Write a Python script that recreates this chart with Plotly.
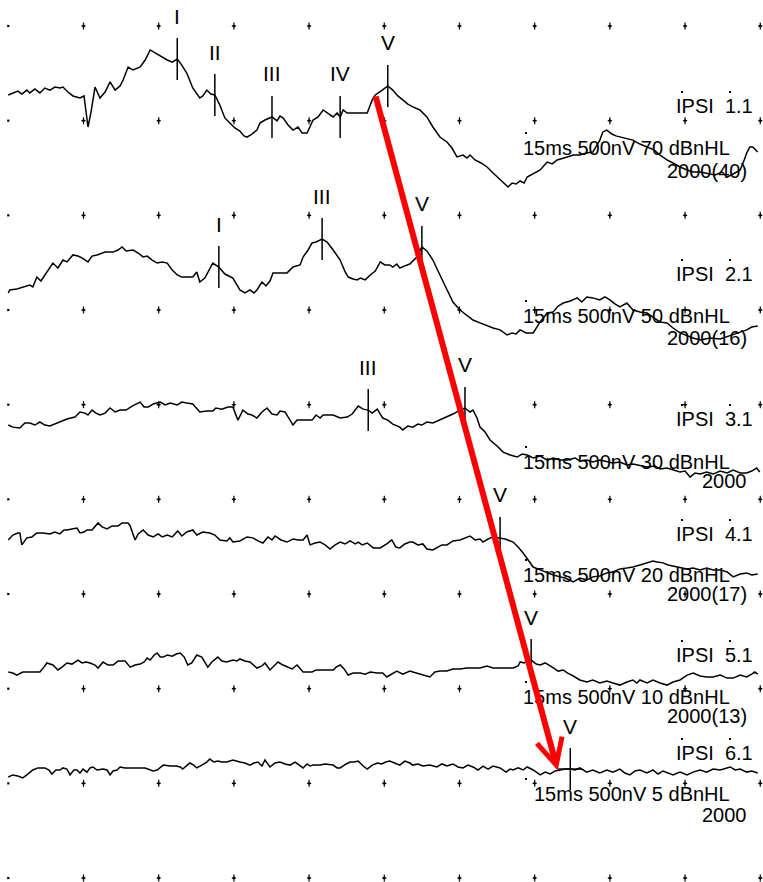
import numpy as np
import plotly.graph_objects as go

# ABR intensity series: 15 ms sweep (10 x 1.5 ms), 500 nV per vertical division
SWEEP_MS = 15.0
MS_PER_DIV = 1.5
NV_PER_DIV = 500.0

levels_db = [70, 50, 30, 20, 10, 5]
channel_ids = ["1.1", "2.1", "3.1", "4.1", "5.1", "6.1"]
sweep_counts = ["2000(40)", "2000(16)", "2000", "2000(17)", "2000(13)", "2000"]

# --- waveforms: latency (ms) and amplitude (nV, positive up) ---
t1 = [0.00, 0.09, 0.19, 0.27, 0.37, 0.43, 0.53, 0.63, 0.73, 0.83, 0.93, 1.03, 1.09, 1.19, 1.29, 1.43,
      1.51, 1.59, 1.65, 1.73, 1.83, 1.93, 2.03, 2.13, 2.23, 2.29, 2.39, 2.49, 2.63, 2.73, 2.83, 2.93,
      3.03, 3.17, 3.27, 3.37, 3.46, 3.56, 3.68, 3.82, 3.88, 3.96, 4.04, 4.12, 4.22, 4.32, 4.42, 4.52,
      4.62, 4.70, 4.76, 4.86, 4.96, 5.02, 5.12, 5.26, 5.36, 5.42, 5.48, 5.58, 5.68, 5.78, 5.86, 5.96,
      6.08, 6.18, 6.28, 6.38, 6.48, 6.56, 6.62, 6.68, 6.76, 6.92, 7.16, 7.26, 7.32, 7.46, 7.57, 7.67,
      7.77, 7.87, 7.97, 8.07, 8.21, 8.35, 8.47, 8.61, 8.75, 8.85, 8.95, 9.07, 9.15, 9.21, 9.31, 9.43,
      9.55, 9.67, 9.81, 9.89, 9.97, 10.05, 10.13, 10.21, 10.29, 10.35, 10.47, 10.61, 10.75, 10.85,
      10.95, 11.05, 11.15, 11.27, 11.40, 11.54, 11.66, 11.80, 11.86, 11.94, 12.04, 12.12, 12.20, 12.32,
      12.46, 12.60, 12.74, 12.88, 13.00, 13.14, 13.26, 13.40, 13.54, 13.66, 13.80, 13.93, 14.10, 14.24,
      14.34, 14.46, 14.60, 14.68, 14.73, 14.79, 14.85, 14.95]
a1 = [0, 11, 21, 5, 26, 11, 32, 11, 37, 26, 42, 37, 42, 16, -5, -16,
      -5, -169, -90, 42, -16, 16, 69, 26, 48, 79, 148, 132, 148, 185, 238, 222,
      206, 185, 174, 190, 158, 116, 37, -16, -5, 26, 5, 0, -53, -121, -148, -174,
      -190, -216, -222, -206, -185, -148, -132, -116, -137, -111, -121, -158, -185, -169, -201, -201,
      -132, -116, -79, -100, -116, -95, -116, -79, -95, -95, -95, -26, 0, 26, 48, 26,
      -5, -26, -48, -63, -79, -116, -169, -222, -248, -280, -327, -317, -333, -317, -343, -359,
      -380, -412, -449, -465, -486, -465, -470, -454, -465, -433, -417, -396, -354, -364,
      -343, -333, -327, -317, -317, -306, -301, -238, -195, -185, -206, -216, -222, -227,
      -238, -259, -275, -290, -317, -343, -359, -380, -396, -407, -407, -412, -422, -407,
      -433, -417, -396, -343, -306, -275, -275, -301]

t2 = [0.00, 0.03, 0.17, 0.29, 0.43, 0.49, 0.57, 0.65, 0.77, 0.89, 0.99, 1.09, 1.17, 1.29, 1.39, 1.47,
      1.59, 1.67, 1.77, 1.93, 2.09, 2.19, 2.27, 2.35, 2.49, 2.59, 2.69, 2.77, 2.87, 2.97, 3.07, 3.17,
      3.27, 3.37, 3.46, 3.58, 3.68, 3.76, 3.82, 3.92, 4.08, 4.20, 4.32, 4.48, 4.62, 4.72, 4.82, 4.90,
      4.96, 5.06, 5.14, 5.22, 5.28, 5.42, 5.56, 5.68, 5.82, 5.88, 5.98, 6.06, 6.14, 6.26, 6.36, 6.48,
      6.62, 6.72, 6.78, 6.88, 6.96, 7.02, 7.12, 7.22, 7.32, 7.42, 7.51, 7.61, 7.67, 7.75, 7.81, 7.91,
      8.01, 8.15, 8.25, 8.35, 8.47, 8.61, 8.75, 8.87, 9.01, 9.15, 9.27, 9.41, 9.55, 9.67, 9.81, 9.95,
      10.05, 10.13, 10.21, 10.33, 10.47, 10.61, 10.75, 10.87, 10.97, 11.07, 11.21, 11.35, 11.44, 11.54,
      11.66, 11.80, 11.90, 12.00, 12.10, 12.20, 12.34, 12.46, 12.60, 12.74, 12.88, 13.00, 13.14, 13.26,
      13.40, 13.54, 13.66, 13.80, 14.00, 14.20, 14.34, 14.50, 14.73, 14.83, 14.95]
a2 = [0, 16, 21, 32, 42, 32, 84, 63, 111, 158, 132, 174, 164, 201, 195, 185,
      164, 195, 201, 216, 216, 227, 243, 222, 227, 211, 190, 195, 174, 158, 164, 158,
      121, 95, 84, 84, 84, 111, 58, 79, 158, 137, 100, 79, 16, 0, 16, 0,
      16, 58, 37, 63, 106, 106, 106, 137, 148, 190, 227, 264, 269, 285, 269, 227,
      174, 111, 84, 74, 69, 79, 69, 95, 116, 164, 148, 148, 137, 153, 132, 143,
      153, 190, 243, 222, 174, 95, 16, -48, -90, -121, -143, -158, -174, -185, -195, -222,
      -211, -216, -195, -211, -211, -153, -106, -100, -69, -53, -42, -26, -48, -21,
      -26, -37, -21, -37, -58, -74, -53, -90, -100, -106, -132, -153, -158, -185,
      -211, -227, -238, -248, -238, -243, -232, -216, -195, -180, -174]

t3 = [0.00, 0.09, 0.23, 0.33, 0.43, 0.53, 0.63, 0.73, 0.83, 0.93, 1.03, 1.17, 1.33, 1.43, 1.53, 1.59,
      1.67, 1.75, 1.83, 1.93, 2.03, 2.13, 2.23, 2.35, 2.47, 2.57, 2.63, 2.71, 2.79, 2.89, 3.03, 3.13,
      3.23, 3.37, 3.46, 3.56, 3.68, 3.82, 3.96, 4.08, 4.14, 4.26, 4.38, 4.48, 4.58, 4.68, 4.78, 4.86,
      4.96, 5.06, 5.16, 5.26, 5.36, 5.42, 5.52, 5.68, 5.76, 5.88, 6.06, 6.14, 6.22, 6.28, 6.48, 6.62,
      6.76, 6.86, 6.98, 7.08, 7.18, 7.26, 7.36, 7.47, 7.57, 7.67, 7.81, 7.87, 7.97, 8.07, 8.17, 8.25,
      8.35, 8.47, 8.61, 8.75, 8.87, 9.01, 9.11, 9.21, 9.27, 9.35, 9.41, 9.51, 9.61, 9.75, 9.87, 10.01,
      10.15, 10.25, 10.35, 10.47, 10.61, 10.75, 10.87, 11.01, 11.15, 11.31, 11.40, 11.54, 11.66, 11.80,
      11.94, 12.06, 12.20, 12.34, 12.46, 12.60, 12.74, 12.90, 13.00, 13.14, 13.26, 13.40, 13.50, 13.60,
      13.70, 13.80, 13.93, 14.06, 14.20, 14.34, 14.46, 14.60, 14.73, 14.83, 14.93, 14.99]
a3 = [0, -11, -16, 11, 11, 0, 16, 0, -5, 5, 16, 32, 42, 69, 63, 53,
      79, 63, 53, 63, 90, 69, 79, 79, 100, 116, 121, 95, 95, 111, 121, 106,
      116, 106, 121, 116, 111, 69, 74, 74, 90, 84, 95, 95, 26, 79, 58, 53,
      37, 69, 90, 58, 53, 74, 69, 0, 26, 26, 26, 53, 37, 53, 53, 37,
      42, 58, 100, 84, 79, 63, 84, 37, 26, 5, -11, -26, -5, -11, 5, 0,
      16, 11, 26, 42, 58, 79, 90, 69, 79, 37, -11, -37, -79, -111, -143, -158,
      -169, -153, -158, -174, -164, -185, -174, -185, -185, -174, -190, -185, -195, -185,
      -195, -201, -195, -211, -206, -216, -222, -216, -232, -227, -238, -248, -243, -275,
      -253, -259, -248, -259, -243, -253, -238, -253, -253, -243, -227, -248]

t4 = [0.00, 0.09, 0.19, 0.23, 0.27, 0.37, 0.47, 0.57, 0.69, 0.83, 0.93, 1.03, 1.11, 1.17, 1.27, 1.37,
      1.43, 1.51, 1.57, 1.67, 1.79, 1.87, 1.97, 2.07, 2.19, 2.27, 2.39, 2.43, 2.53, 2.59, 2.69, 2.79,
      2.89, 2.99, 3.07, 3.17, 3.27, 3.38, 3.46, 3.56, 3.68, 3.76, 3.88, 4.02, 4.12, 4.22, 4.36, 4.42,
      4.48, 4.62, 4.76, 4.88, 4.98, 5.08, 5.18, 5.26, 5.32, 5.44, 5.56, 5.68, 5.78, 5.88, 5.96, 6.02,
      6.12, 6.22, 6.32, 6.42, 6.52, 6.62, 6.72, 6.82, 6.92, 6.98, 7.06, 7.16, 7.28, 7.42, 7.55, 7.65,
      7.73, 7.81, 7.91, 8.01, 8.07, 8.17, 8.27, 8.35, 8.47, 8.55, 8.65, 8.75, 8.87, 9.01, 9.11, 9.21,
      9.31, 9.41, 9.47, 9.57, 9.67, 9.81, 9.91, 10.07, 10.17, 10.27, 10.37, 10.47, 10.61, 10.75, 10.87,
      11.01, 11.11, 11.27, 11.40, 11.54, 11.66, 11.80, 11.94, 12.06, 12.20, 12.34, 12.46, 12.60, 12.74,
      12.86, 12.94, 13.06, 13.16, 13.26, 13.40, 13.54, 13.66, 13.80, 13.93, 14.06, 14.20, 14.34, 14.46,
      14.60, 14.73, 14.83, 14.95]
a4 = [0, 26, 37, 37, -26, 11, 16, 37, 37, 32, 42, 32, 53, 53, 58, 63,
      37, 42, 53, 53, 90, 69, 58, 74, 74, 90, 90, 74, 0, 32, 53, 26,
      16, 32, 16, 26, 16, 48, 21, 42, 53, 26, 42, 37, 26, 0, -5, 11,
      -11, -5, 16, 11, -5, -16, 16, 0, 21, 0, -11, 5, 0, 0, 26, -26,
      -16, -11, -26, -48, -26, -11, -21, -5, -21, -11, -26, -16, -42, -42, -21, 0,
      -37, -42, -21, -11, -11, -26, -21, -48, -53, -42, -26, -26, -5, 0, 11, 21,
      0, 5, -11, 5, 16, 11, 5, -11, -37, -69, -106, -143, -158, -174, -185,
      -195, -201, -222, -201, -211, -195, -190, -174, -169, -153, -148, -143, -132, -121,
      -111, -116, -121, -132, -137, -143, -153, -148, -158, -148, -158, -158, -169, -195,
      -180, -174, -185, -180]

t5 = [0.00, 0.09, 0.17, 0.29, 0.43, 0.63, 0.71, 0.77, 0.89, 0.99, 1.07, 1.17, 1.27, 1.39, 1.47, 1.55,
      1.63, 1.73, 1.79, 1.89, 1.99, 2.09, 2.19, 2.33, 2.43, 2.53, 2.63, 2.71, 2.77, 2.83, 2.91, 2.97,
      3.03, 3.09, 3.17, 3.27, 3.35, 3.43, 3.51, 3.58, 3.66, 3.76, 3.86, 3.98, 4.06, 4.18, 4.26, 4.36,
      4.48, 4.56, 4.62, 4.72, 4.82, 4.96, 5.06, 5.12, 5.22, 5.30, 5.38, 5.48, 5.56, 5.66, 5.76, 5.88,
      6.06, 6.14, 6.22, 6.32, 6.48, 6.54, 6.62, 6.70, 6.78, 6.88, 7.02, 7.12, 7.22, 7.36, 7.47, 7.55,
      7.67, 7.75, 7.87, 8.01, 8.07, 8.21, 8.31, 8.41, 8.51, 8.61, 8.75, 8.87, 9.01, 9.15, 9.27, 9.41,
      9.55, 9.67, 9.81, 9.95, 10.07, 10.17, 10.21, 10.29, 10.35, 10.43, 10.53, 10.61, 10.71, 10.81,
      10.87, 10.97, 11.07, 11.15, 11.27, 11.40, 11.54, 11.66, 11.80, 11.94, 12.06, 12.20, 12.34, 12.46,
      12.54, 12.60, 12.74, 12.86, 13.00, 13.14, 13.26, 13.40, 13.54, 13.66, 13.80, 13.93, 14.06, 14.20,
      14.34, 14.46, 14.60, 14.73, 14.83, 14.89, 14.95]
a5 = [0, -5, -16, 0, 0, 0, 26, 48, 37, 11, 26, 48, 42, 63, 48, 53,
      48, 37, 21, 53, 37, 37, 58, 58, 26, 37, 42, 53, 74, 63, 90, 100,
      79, 79, 90, 84, 95, 100, 79, 37, 48, 90, 79, 26, 53, 79, 58, 53,
      63, 58, 69, 58, 53, 21, 32, 48, 11, 32, 53, 37, 26, 16, 37, 0,
      0, 11, 11, 11, 11, 26, 37, 16, -16, -5, -5, -11, 0, -5, -5, -26,
      -5, 5, -11, 5, 0, -11, -16, -26, 0, 5, 5, 16, 16, 21, 21, 21,
      32, 21, 21, 21, 21, 32, 53, 48, 63, 63, 42, 37, 48, 32,
      21, 5, 11, -5, -21, -42, -53, -42, -58, -48, -58, -69, -53, -42,
      -58, -42, -58, -42, -58, -69, -53, -42, -16, -5, -21, -26, -26, -16,
      -32, -32, -16, -26, -11, 0, -11]

t6 = [0.00, 0.09, 0.19, 0.29, 0.37, 0.49, 0.59, 0.73, 0.81, 0.87, 0.95, 1.03, 1.09, 1.17, 1.23, 1.31,
      1.37, 1.43, 1.49, 1.57, 1.63, 1.69, 1.77, 1.89, 1.97, 2.03, 2.09, 2.17, 2.23, 2.33, 2.53, 2.73,
      2.89, 2.97, 3.09, 3.23, 3.35, 3.43, 3.48, 3.56, 3.62, 3.70, 3.76, 3.86, 3.96, 4.02, 4.10, 4.18,
      4.26, 4.36, 4.48, 4.62, 4.72, 4.82, 4.90, 4.98, 5.06, 5.12, 5.22, 5.32, 5.42, 5.52, 5.62, 5.72,
      5.82, 5.88, 5.96, 6.02, 6.08, 6.22, 6.32, 6.48, 6.56, 6.62, 6.74, 6.82, 6.90, 6.98, 7.08, 7.16,
      7.26, 7.36, 7.45, 7.53, 7.61, 7.71, 7.81, 7.91, 8.01, 8.07, 8.17, 8.27, 8.41, 8.55, 8.65, 8.75,
      8.87, 8.97, 9.07, 9.17, 9.27, 9.37, 9.47, 9.57, 9.67, 9.81, 9.93, 10.01, 10.07, 10.17, 10.27,
      10.35, 10.47, 10.61, 10.71, 10.81, 10.91, 11.01, 11.11, 11.21, 11.31, 11.40, 11.54, 11.66, 11.80,
      11.94, 12.06, 12.20, 12.30, 12.40, 12.50, 12.60, 12.74, 12.86, 12.96, 13.06, 13.16, 13.26, 13.40,
      13.54, 13.66, 13.80, 13.93, 14.06, 14.20, 14.34, 14.40, 14.50, 14.60, 14.73, 14.83, 14.95]
a6 = [0, 11, 5, -5, 11, 37, 48, 48, 37, 16, 37, 37, 48, 42, 11, 37,
      37, 21, 42, 26, 48, 53, 37, 42, 37, 11, 32, 37, 53, 48, 48, 48,
      32, 37, 63, 58, 58, 53, 42, 58, 74, 63, 48, 63, 79, 95, 79, 84,
      79, 79, 90, 79, 74, 63, 74, 79, 58, 90, 53, 74, 79, 69, 63, 79,
      58, 48, 69, 58, 63, 63, 69, 63, 48, 48, 69, 79, 79, 84, 58, 42,
      63, 74, 69, 79, 84, 74, 63, 84, 74, 63, 69, 58, 63, 53, 69, 58,
      69, 53, 48, 63, 53, 37, 58, 42, 58, 48, 26, 42, 37, 48, 37,
      53, 37, 11, 26, 16, 32, 37, 42, 42, 37, 48, 26, 37, 21,
      37, 26, 42, 21, 11, 32, 37, 21, 37, 16, 32, 21, 11, 26,
      11, 26, 37, 26, 42, 37, 48, 53, 37, 42, 26, 32, 21]

times = [t1, t2, t3, t4, t5, t6]
amps = [a1, a2, a3, a4, a5, a6]

# --- marked peaks (wave label, latency in ms) ---
peak_names = [["I", "II", "III", "IV", "V"], ["I", "III", "V"], ["III", "V"], ["V"], ["V"], ["V"]]
peak_ms = [[3.37, 4.12, 5.26, 6.62, 7.57], [4.20, 6.26, 8.25], [7.18, 9.11], [9.81], [10.43], [11.21]]

# --- layout: trace baselines and label rows, in divisions below the top grid row ---
trace_offset = [0.729, 2.820, 4.215, 5.429, 6.824, 7.933]
ipsi_row = [0.845, 2.620, 4.151, 5.366, 6.644, 7.680]
param_row = [1.289, 3.063, 4.606, 5.799, 7.088, 8.112]
count_row = [1.532, 3.296, 4.806, 6.000, 7.289, 8.334]

PX_PER_MS = 50.13
PX_PER_DIV = 94.67
X0_PX, Y0_PX = 8.3, 26.0
W, H = 763, 882

FONT = "Liberation Sans, Arial, sans-serif"
TXT = 20          # channel / stimulus text
PEAK_TXT = 21     # wave labels
TICK_HALF = 21 / PX_PER_DIV      # half height of the peak tick
LABEL_UP = 43 / PX_PER_DIV       # label centre above the waveform

fig = go.Figure()

# dotted reference grid
cols = np.arange(0, SWEEP_MS + 1e-9, MS_PER_DIV)
rows = np.arange(0, 10)
gx, gy = np.meshgrid(cols, rows)
inner = gx > 0
fig.add_trace(go.Scatter(x=gx.ravel(), y=-gy.ravel(), mode="markers",
                         marker=dict(symbol="square", size=2.2, color="black", line=dict(width=0)),
                         hoverinfo="skip", showlegend=False))
fig.add_trace(go.Scatter(x=gx[inner], y=-gy[inner], mode="markers",
                         marker=dict(symbol="line-ns", size=5, line=dict(width=1.2, color="black")),
                         hoverinfo="skip", showlegend=False))
fig.add_trace(go.Scatter(x=gx[inner], y=-gy[inner], mode="markers",
                         marker=dict(symbol="line-ew", size=3, line=dict(width=1.2, color="black")),
                         hoverinfo="skip", showlegend=False))


def y_of(k, amp):
    return -trace_offset[k] + np.asarray(amp, dtype=float) / NV_PER_DIV


annotations = []
shapes = []
small_dots_x, small_dots_y = [], []

for k in range(6):
    t = np.asarray(times[k], dtype=float)
    y = y_of(k, amps[k])
    fig.add_trace(go.Scatter(x=t, y=y, mode="lines", line=dict(color="black", width=1.5),
                             hoverinfo="skip", showlegend=False))

    for name, ms in zip(peak_names[k], peak_ms[k]):
        yp = float(np.interp(ms, t, y))
        shapes.append(dict(type="line", xref="x", yref="y", x0=ms, x1=ms,
                           y0=yp - TICK_HALF, y1=yp + TICK_HALF,
                           line=dict(color="black", width=1.5)))
        annotations.append(dict(x=ms, y=yp + LABEL_UP, text=name, showarrow=False,
                                xanchor="center", yanchor="middle",
                                font=dict(family=FONT, size=PEAK_TXT, color="black")))
    if k == 5:
        ms = peak_ms[k][-1]
        yp = float(np.interp(ms, t, y))
        shapes.append(dict(type="line", xref="x", yref="y", x0=ms - 12 / PX_PER_MS, x1=ms + 12 / PX_PER_MS,
                           y0=yp, y1=yp, line=dict(color="black", width=1.5)))

    # channel / stimulus / sweep text block
    x_ipsi = (755 - X0_PX) / PX_PER_MS
    x_param = (732 - X0_PX) / PX_PER_MS
    x_count = (749 - X0_PX) / PX_PER_MS
    annotations.append(dict(x=x_ipsi, y=-ipsi_row[k], text="IPSI\u00a0\u00a0" + channel_ids[k],
                            showarrow=False, xanchor="right", yanchor="middle",
                            font=dict(family=FONT, size=TXT, color="black")))
    annotations.append(dict(x=x_param, y=-param_row[k],
                            text=f"15ms 500nV {levels_db[k]} dBnHL",
                            showarrow=False, xanchor="right", yanchor="middle",
                            font=dict(family=FONT, size=TXT, color="black")))
    annotations.append(dict(x=x_count, y=-count_row[k], text=sweep_counts[k],
                            showarrow=False, xanchor="right", yanchor="middle",
                            font=dict(family=FONT, size=TXT, color="black")))
    small_dots_x += [(682 - X0_PX) / PX_PER_MS, (730 - X0_PX) / PX_PER_MS, (526 - X0_PX) / PX_PER_MS]
    small_dots_y += [-ipsi_row[k] + 14 / PX_PER_DIV, -ipsi_row[k] + 14 / PX_PER_DIV,
                     -param_row[k] + 15 / PX_PER_DIV]

fig.add_trace(go.Scatter(x=small_dots_x, y=small_dots_y, mode="markers",
                         marker=dict(symbol="square", size=2, color="black", line=dict(width=0)),
                         hoverinfo="skip", showlegend=False))

# red arrow tracking wave V latency shift from 70 to 5 dBnHL
tv_top = peak_ms[0][-1] - 0.25
tv_bot = peak_ms[5][-1] - 0.25
y_top = float(np.interp(tv_top, times[0], y_of(0, amps[0])))
y_bot = float(np.interp(tv_bot, times[5], y_of(5, amps[5])))
annotations.append(dict(x=tv_bot, y=y_bot, ax=tv_top, ay=y_top, axref="x", ayref="y",
                        xref="x", yref="y", text="", showarrow=True,
                        arrowhead=5, arrowsize=0.85, arrowwidth=6, arrowcolor="#ff0000",
                        standoff=0))

fig.update_layout(
    width=W, height=H,
    margin=dict(l=0, r=0, t=0, b=0),
    paper_bgcolor="white", plot_bgcolor="white",
    showlegend=False,
    xaxis=dict(range=[-X0_PX / PX_PER_MS, (W - X0_PX) / PX_PER_MS], visible=False, fixedrange=True),
    yaxis=dict(range=[-(H - Y0_PX) / PX_PER_DIV, Y0_PX / PX_PER_DIV], visible=False, fixedrange=True),
    shapes=shapes,
    annotations=annotations,
)

fig.write_html("out.html")
